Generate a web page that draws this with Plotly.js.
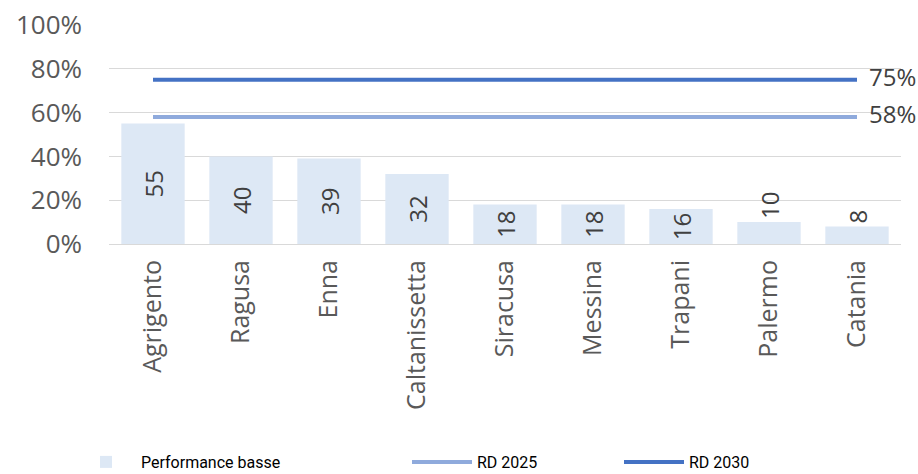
<!DOCTYPE html>
<html>
<head>
<meta charset="utf-8">
<script src="https://cdn.plot.ly/plotly-3.0.1.min.js"></script>
<style>html,body{margin:0;padding:0;background:#fff;}#chart{width:918px;height:474px;}</style>
</head>
<body>
<div id="chart"></div>
<script>
const categories = ["Agrigento","Ragusa","Enna","Caltanissetta","Siracusa","Messina","Trapani","Palermo","Catania"];
const performanceBasse = [55, 40, 39, 32, 18, 18, 16, 10, 8];
const rd2025 = [58, 58, 58, 58, 58, 58, 58, 58, 58];
const rd2030 = [75, 75, 75, 75, 75, 75, 75, 75, 75];
const yTicks = [0, 20, 40, 60, 80, 100];
const yTickLabels = ["0%", "20%", "40%", "60%", "80%", "100%"];

const lastLabel = (arr) => arr.map((v, i) => i === arr.length - 1 ? '\u2002' + v + '%' : '');

const labelFont = {family: 'Open Sans', size: 24, color: '#404040'};

const traces = [
  {
    type: 'bar', name: 'Performance basse', x: categories, y: performanceBasse,
    marker: {color: '#DDE8F5'},
    text: performanceBasse.map(String), texttemplate: '%{text}',
    textposition: 'auto', textangle: -90,
    insidetextanchor: 'middle', constraintext: 'none',
    textfont: labelFont, insidetextfont: labelFont, outsidetextfont: labelFont,
    cliponaxis: false, hoverinfo: 'skip', legend: 'legend'
  },
  {
    type: 'scatter', mode: 'lines+text', name: 'RD 2025', x: categories, y: rd2025,
    line: {color: '#8FAADC', width: 4},
    text: lastLabel(rd2025), texttemplate: '%{text}', textposition: 'middle right',
    textfont: labelFont, cliponaxis: false, legend: 'legend2'
  },
  {
    type: 'scatter', mode: 'lines+text', name: 'RD 2030', x: categories, y: rd2030,
    line: {color: '#4472C4', width: 4},
    text: lastLabel(rd2030), texttemplate: '%{text}', textposition: 'middle right',
    textfont: labelFont, cliponaxis: false, legend: 'legend3'
  }
];

const legendFont = {family: 'Roboto, Open Sans, sans-serif', size: 16, color: '#000000'};
const legendBase = {orientation: 'h', xref: 'container', yref: 'container', yanchor: 'middle', font: legendFont, bgcolor: 'rgba(0,0,0,0)', itemwidth: 60};

const layout = {
  width: 918, height: 474,
  margin: {l: 109, r: 17, t: 25, b: 230},
  paper_bgcolor: '#ffffff', plot_bgcolor: '#ffffff',
  bargap: 0.28,
  showlegend: true,
  xaxis: {
    type: 'category', tickangle: -90,
    tickfont: {family: 'Open Sans', size: 25, color: '#595959'},
    showgrid: false, showline: false, ticks: '', ticklabelstandoff: 10
  },
  yaxis: {
    range: [0, 100], tickvals: yTicks, ticktext: yTickLabels,
    tickfont: {family: 'Open Sans', size: 26, color: '#595959'},
    gridcolor: '#D9D9D9', gridwidth: 1, zeroline: true, zerolinecolor: '#D9D9D9', zerolinewidth: 1,
    showline: false, ticks: '', ticklabelstandoff: 26, fixedrange: true
  },
  legend: Object.assign({}, legendBase, {x: 71/918, y: 12/474}),
  legend2: Object.assign({}, legendBase, {x: 407/918, y: 12/474}),
  legend3: Object.assign({}, legendBase, {x: 619/918, y: 12/474})
};

Plotly.newPlot('chart', traces, layout, {displayModeBar: false, staticPlot: true});
</script>
</body>
</html>
